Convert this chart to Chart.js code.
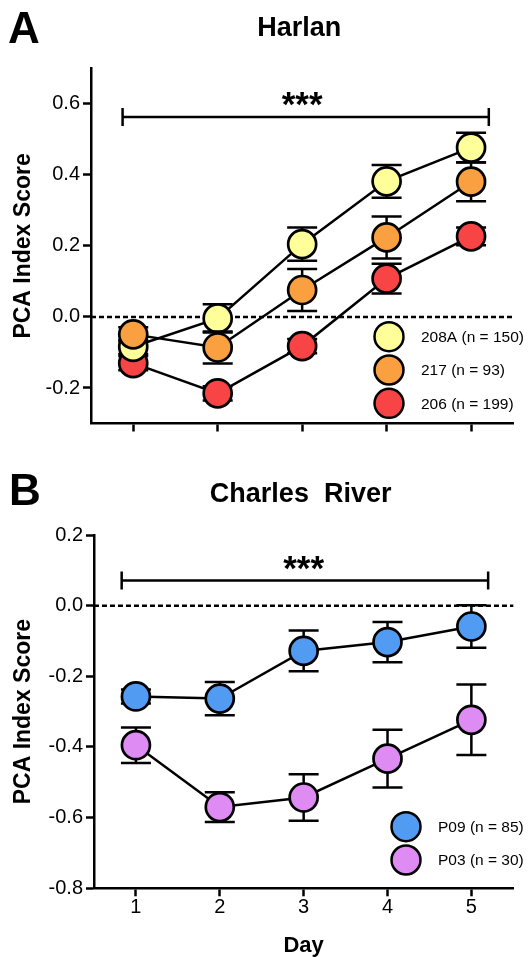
<!DOCTYPE html>
<html>
<head>
<meta charset="utf-8">
<title>PCA Index Score by day</title>
<script src="https://cdn.jsdelivr.net/npm/chart.js@4.4.1/dist/chart.umd.min.js"></script>
<style>
  html, body { margin: 0; padding: 0; background: #fff; }
  canvas { display: block; }
</style>
</head>
<body>
<canvas id="chart-a" width="530" height="470"></canvas>
<canvas id="chart-b" width="530" height="487"></canvas>
<script>
/* ---- data ---- */
var days = ["1", "2", "3", "4", "5"];

var harlanTicks = [-0.2, 0.0, 0.2, 0.4, 0.6];
var charlesTicks = [-0.8, -0.6, -0.4, -0.2, 0.0, 0.2];

// Harlan strains (mean, SEM)
var s208A = [-0.084, -0.004, 0.205, 0.382, 0.477];
var s208AErr = [0.02, 0.040, 0.047, 0.046, 0.042];
var s217 = [-0.049, -0.086, 0.076, 0.224, 0.381];
var s217Err = [0.02, 0.045, 0.059, 0.059, 0.055];
var s206 = [-0.130, -0.215, -0.082, 0.108, 0.227];
var s206Err = [0.02, 0.02, 0.02, 0.042, 0.025];

// Charles River strains (mean, SEM)
var p09 = [-0.257, -0.263, -0.128, -0.103, -0.059];
var p09Err = [0.02, 0.047, 0.058, 0.057, 0.060];
var p03 = [-0.395, -0.570, -0.543, -0.433, -0.323];
var p03Err = [0.050, 0.042, 0.066, 0.082, 0.100];

// significance bracket: [from day, to day, level]
var harlanBracket = [0.874, 5.21, 0.563];
var charlesBracket = [0.83, 5.2, 0.071];

/* ---- drawing ---- */
var FONT = '"Liberation Sans", Arial, Helvetica, sans-serif';

function dayIndex(d) { return d - 1; }

var panelPlugin = {
  id: "panel",
  beforeDatasetsDraw: function (chart) {
    // dashed zero line
    var ctx = chart.ctx, a = chart.chartArea;
    var y = chart.scales.y.getPixelForValue(0);
    ctx.save();
    ctx.setLineDash([5, 3]);
    ctx.lineWidth = 2.5;
    ctx.strokeStyle = "#000";
    ctx.beginPath();
    ctx.moveTo(a.left, y);
    ctx.lineTo(a.right, y);
    ctx.stroke();
    ctx.restore();
  },
  beforeDatasetDraw: function (chart, args) {
    // error bars sit under their own markers
    var ds = chart.data.datasets[args.index];
    var xs = chart.scales.x, ys = chart.scales.y, ctx = chart.ctx;
    ctx.save();
    ctx.lineWidth = 2.5;
    ctx.strokeStyle = "#000";
    ds.data.forEach(function (v, i) {
      var e = ds.errors[i];
      var x = xs.getPixelForValue(i);
      var y1 = ys.getPixelForValue(v + e), y2 = ys.getPixelForValue(v - e);
      ctx.beginPath();
      ctx.moveTo(x, y1); ctx.lineTo(x, y2);
      ctx.moveTo(x - 15, y1); ctx.lineTo(x + 15, y1);
      ctx.moveTo(x - 15, y2); ctx.lineTo(x + 15, y2);
      ctx.stroke();
    });
    ctx.restore();
  },
  afterDraw: function (chart, args, opts) {
    var ctx = chart.ctx, a = chart.chartArea;
    var xs = chart.scales.x, ys = chart.scales.y;
    ctx.save();
    ctx.fillStyle = "#000";

    // panel letter
    ctx.font = "bold 44px " + FONT;
    ctx.textAlign = "left";
    ctx.textBaseline = "alphabetic";
    ctx.fillText(opts.letter, opts.letterX, opts.letterY);

    // title
    ctx.font = "bold 27px " + FONT;
    ctx.textAlign = "center";
    ctx.fillText(opts.title, (a.left + a.right) / 2 - 3, opts.titleY);

    // bracket + stars
    var b = opts.bracket;
    var bx1 = xs.getPixelForValue(dayIndex(b[0]));
    var bx2 = xs.getPixelForValue(dayIndex(b[1]));
    var by = ys.getPixelForValue(b[2]);
    ctx.lineWidth = 2.5;
    ctx.strokeStyle = "#000";
    ctx.beginPath();
    ctx.moveTo(bx1, by); ctx.lineTo(bx2, by);
    ctx.moveTo(bx1, by - 9); ctx.lineTo(bx1, by + 9);
    ctx.moveTo(bx2, by - 9); ctx.lineTo(bx2, by + 9);
    ctx.stroke();
    ctx.font = "bold 35px " + FONT;
    ctx.fillText("***", xs.getPixelForValue(2), by - 1);

    // legend
    var lg = opts.legend;
    chart.data.datasets.forEach(function (ds, i) {
      var cy = lg.y + i * lg.dy;
      ctx.beginPath();
      ctx.arc(lg.x, cy, 14.5, 0, Math.PI * 2);
      ctx.fillStyle = ds.backgroundColor;
      ctx.fill();
      ctx.lineWidth = 2.5;
      ctx.stroke();
      ctx.fillStyle = "#000";
      ctx.font = "15.5px " + FONT;
      ctx.textAlign = "left";
      ctx.textBaseline = "middle";
      ctx.fillText(ds.label, lg.textX, cy + 1);
      ctx.textBaseline = "alphabetic";
    });
    ctx.restore();
  }
};

function series(label, data, errors, color, order) {
  return {
    label: label,
    data: data,
    errors: errors,
    order: order,
    backgroundColor: color,
    borderColor: "#000",
    borderWidth: 2.5,
    pointRadius: 14,
    pointBorderWidth: 2.7,
    pointBorderColor: "#000",
    pointBackgroundColor: color,
    tension: 0,
    clip: false
  };
}

function makePanel(id, p) {
  return new Chart(document.getElementById(id), {
    type: "line",
    data: { labels: days, datasets: p.datasets },
    options: {
      responsive: false,
      animation: false,
      events: [],
      layout: { padding: { top: p.top, right: p.right, bottom: 0, left: 0 } },
      plugins: {
        legend: { display: false },
        tooltip: { enabled: false },
        panel: p.panel
      },
      scales: {
        x: {
          type: "category",
          offset: true,
          grid: { offset: false, drawOnChartArea: false, tickLength: 8, tickWidth: 2.5, tickColor: "#000" },
          border: { color: "#000", width: 2.5 },
          ticks: {
            color: "#000",
            padding: 1,
            font: { family: FONT, size: 20, lineHeight: 1 },
            callback: p.xLabels ? function (v, i) { return days[i]; } : function () { return ""; }
          },
          title: {
            display: !!p.xTitle,
            text: p.xTitle || "",
            color: "#000",
            padding: { top: 0, bottom: 0 },
            font: { family: FONT, size: 22, weight: "bold", lineHeight: 1 }
          },
          afterFit: function (s) { s.height = p.xHeight; }
        },
        y: {
          min: p.yMin,
          max: p.yMax,
          afterBuildTicks: function (s) { s.ticks = p.yTicks.map(function (v) { return { value: v }; }); },
          grid: { drawOnChartArea: false, tickLength: 8, tickWidth: 2.5, tickColor: "#000" },
          border: { color: "#000", width: 2.5 },
          ticks: {
            color: "#000",
            padding: 3,
            font: { family: FONT, size: 20 },
            callback: function (v) { return Number(v).toFixed(1); }
          },
          title: {
            display: true,
            text: "PCA Index Score",
            color: "#000",
            padding: { top: 12.5, bottom: 0 },
            font: { family: FONT, size: 23, weight: "bold", lineHeight: 1 }
          },
          afterFit: function (s) { s.width = p.yWidth; }
        }
      }
    },
    plugins: [panelPlugin]
  });
}

makePanel("chart-a", {
  datasets: [
    series("208A (n = 150)", s208A, s208AErr, "#FFFF99", 1),
    series("217 (n = 93)", s217, s217Err, "#FBA040", 0),
    series("206 (n = 199)", s206, s206Err, "#F84444", 2)
  ],
  yMin: -0.3, yMax: 0.7, yTicks: harlanTicks,
  top: 68.4, right: 4, yWidth: 91, xHeight: 46.5,
  xLabels: false, xTitle: null,
  panel: {
    letter: "A", letterX: 8, letterY: 43,
    title: "Harlan", titleY: 36,
    bracket: harlanBracket,
    legend: { x: 389, y: 336.7, dy: 33.3, textX: 421 }
  }
});

makePanel("chart-b", {
  datasets: [
    series("P09 (n = 85)", p09, p09Err, "#519CF2", 0),
    series("P03 (n = 30)", p03, p03Err, "#DE8BF3", 1)
  ],
  yMin: -0.8, yMax: 0.2, yTicks: charlesTicks,
  top: 65, right: 0.7, yWidth: 94, xHeight: 68.7,
  xLabels: true, xTitle: "Day",
  panel: {
    letter: "B", letterX: 9, letterY: 35,
    title: "Charles  River", titleY: 31.5,
    bracket: charlesBracket,
    legend: { x: 406, y: 356.7, dy: 33.3, textX: 438 }
  }
});
</script>
</body>
</html>
